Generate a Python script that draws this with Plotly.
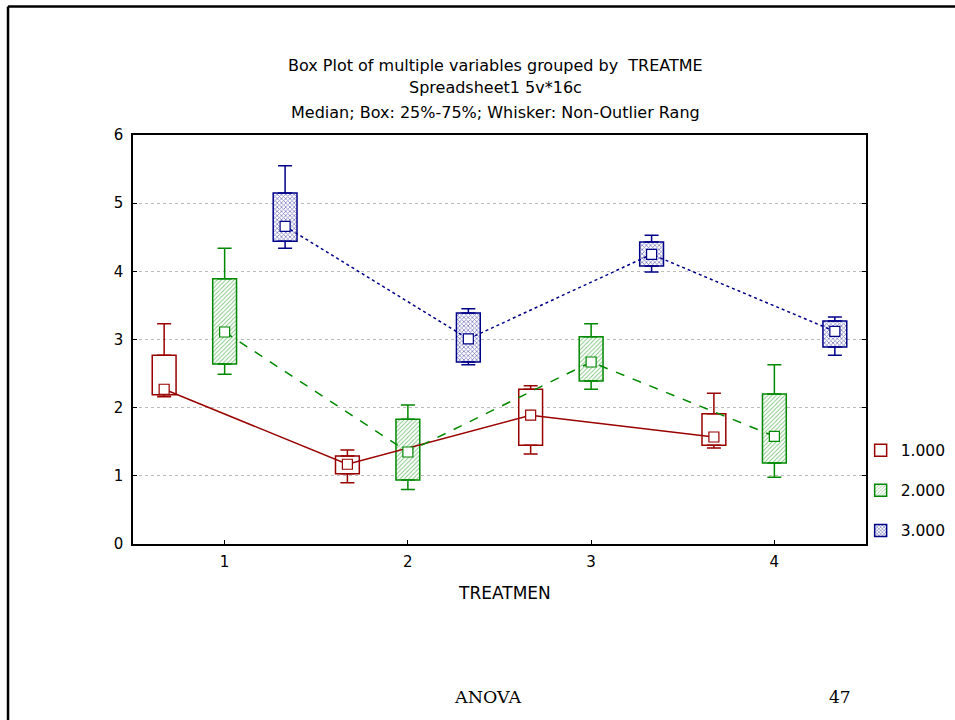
import plotly.graph_objects as go

groups = [1, 2, 3, 4]
series_names = ["1.000", "2.000", "3.000"]

# per series: values at TREATMEN 1..4
median = {
    "1.000": [2.27, 1.17, 1.89, 1.57],
    "2.000": [3.11, 1.35, 2.67, 1.58],
    "3.000": [4.66, 3.01, 4.25, 3.12],
}
q1 = {
    "1.000": [2.19, 1.03, 1.45, 1.45],
    "2.000": [2.64, 0.94, 2.39, 1.19],
    "3.000": [4.44, 2.67, 4.08, 2.89],
}
q3 = {
    "1.000": [2.77, 1.29, 2.27, 1.91],
    "2.000": [3.89, 1.83, 3.04, 2.20],
    "3.000": [5.15, 3.39, 4.43, 3.27],
}
wlow = {
    "1.000": [2.16, 0.90, 1.32, 1.41],
    "2.000": [2.49, 0.80, 2.27, 0.98],
    "3.000": [4.34, 2.63, 3.99, 2.77],
}
whigh = {
    "1.000": [3.23, 1.38, 2.32, 2.21],
    "2.000": [4.34, 2.04, 3.23, 2.63],
    "3.000": [5.55, 3.45, 4.53, 3.33],
}

colors = {"1.000": "#990000", "2.000": "#008800", "3.000": "#000088"}
offsets = {"1.000": -0.33, "2.000": 0.0, "3.000": 0.33}
dashes = {"1.000": "solid", "2.000": "dash", "3.000": "dot"}
patterns = {
    "1.000": dict(shape=""),
    "2.000": dict(shape="/", fgcolor="#008800", bgcolor="white", size=3, solidity=0.3),
    "3.000": dict(shape="x", fgcolor="#000088", bgcolor="white", size=3, solidity=0.45),
}

fig = go.Figure()

for s in series_names:
    xs = [g + offsets[s] for g in groups]
    c = colors[s]
    fig.add_trace(go.Bar(
        x=xs, y=[b - a for a, b in zip(q1[s], q3[s])], base=q1[s], width=0.13,
        marker=dict(color="white", line=dict(color=c, width=1.5), pattern=patterns[s]),
        name=s, legendgroup=s, showlegend=True, hoverinfo="skip",
    ))

for s in series_names:
    xs = [g + offsets[s] for g in groups]
    c = colors[s]
    fig.add_trace(go.Scatter(
        x=xs, y=q3[s], mode="markers", marker=dict(size=1, color="rgba(0,0,0,0)"),
        error_y=dict(type="data", symmetric=False,
                     array=[b - a for a, b in zip(q3[s], whigh[s])],
                     arrayminus=[0] * 4, color=c, thickness=1.5, width=7),
        showlegend=False, hoverinfo="skip",
    ))
    fig.add_trace(go.Scatter(
        x=xs, y=q1[s], mode="markers", marker=dict(size=1, color="rgba(0,0,0,0)"),
        error_y=dict(type="data", symmetric=False,
                     array=[0] * 4,
                     arrayminus=[a - b for a, b in zip(q1[s], wlow[s])],
                     color=c, thickness=1.5, width=7),
        showlegend=False, hoverinfo="skip",
    ))

for s in series_names:
    xs = [g + offsets[s] for g in groups]
    c = colors[s]
    fig.add_trace(go.Scatter(
        x=xs, y=median[s], mode="lines+markers",
        line=dict(color=c, width=1.5, dash=dashes[s]),
        marker=dict(symbol="square", size=10, color="white", line=dict(color=c, width=1.2)),
        showlegend=False, hoverinfo="skip",
    ))

font = "DejaVu Sans, Liberation Sans, Arial, sans-serif"
serif = "DejaVu Serif, Liberation Serif, Times New Roman, serif"
title_lines = [
    ("Box Plot of multiple variables grouped by  TREATME", 1.171),
    ("Spreadsheet1 5v*16c", 1.117),
    ("Median; Box: 25%-75%; Whisker: Non-Outlier Rang", 1.054),
]
annotations = []
for t, yy in title_lines:
    annotations.append(dict(text=t, x=0.494, y=yy, xref="paper", yref="paper",
                            xanchor="center", yanchor="middle",
                            showarrow=False, font=dict(family=font, size=16, color="black")))
annotations.append(dict(text="TREATMEN", x=0.507, y=-0.12, xref="paper", yref="paper",
                        xanchor="center", yanchor="middle",
                        showarrow=False, font=dict(family=font, size=17, color="black")))
annotations.append(dict(text="ANOVA", x=0.484, y=-0.374, xref="paper", yref="paper",
                        xanchor="center", yanchor="middle",
                        showarrow=False, font=dict(family=serif, size=17.5, color="black")))
annotations.append(dict(text="47", x=0.9645, y=-0.374, xref="paper", yref="paper",
                        xanchor="center", yanchor="middle",
                        showarrow=False, font=dict(family=serif, size=17, color="black")))

shapes = [
    dict(type="line", xref="paper", yref="paper", x0=-0.1705, x1=1.13, y0=1.314, y1=1.314,
         line=dict(color="black", width=2.5)),
    dict(type="line", xref="paper", yref="paper", x0=-0.1705, x1=-0.1705, y0=1.314, y1=-0.45,
         line=dict(color="black", width=2.5)),
]

fig.update_layout(
    width=955, height=720,
    margin=dict(l=133, r=89, t=135, b=176, autoexpand=False),
    paper_bgcolor="white", plot_bgcolor="white",
    barmode="overlay",
    font=dict(family=font, size=14, color="black"),
    annotations=annotations, shapes=shapes,
    legend=dict(x=0.9927, y=0.27, xanchor="left", yanchor="top",
                font=dict(family=font, size=15.5, color="black"),
                tracegroupgap=17, bgcolor="rgba(0,0,0,0)", itemwidth=30),
    xaxis=dict(range=[0.5, 4.5], tickvals=groups, ticktext=[str(g) for g in groups],
               showgrid=False, zeroline=False, showline=True, linecolor="black", linewidth=1.5,
               mirror=True, ticks="inside", ticklen=4, tickcolor="black",
               ticklabelstandoff=3,
               tickfont=dict(family=font, size=15)),
    yaxis=dict(range=[0, 6], tickvals=[0, 1, 2, 3, 4, 5, 6],
               showgrid=True, gridcolor="#bbbbbb", griddash="dot", gridwidth=1,
               zeroline=False, showline=True, linecolor="black", linewidth=1.5,
               mirror="ticks", ticks="inside", ticklen=4, tickcolor="black",
               ticklabelstandoff=5,
               tickfont=dict(family=font, size=15)),
)

fig.write_html("out.html")
